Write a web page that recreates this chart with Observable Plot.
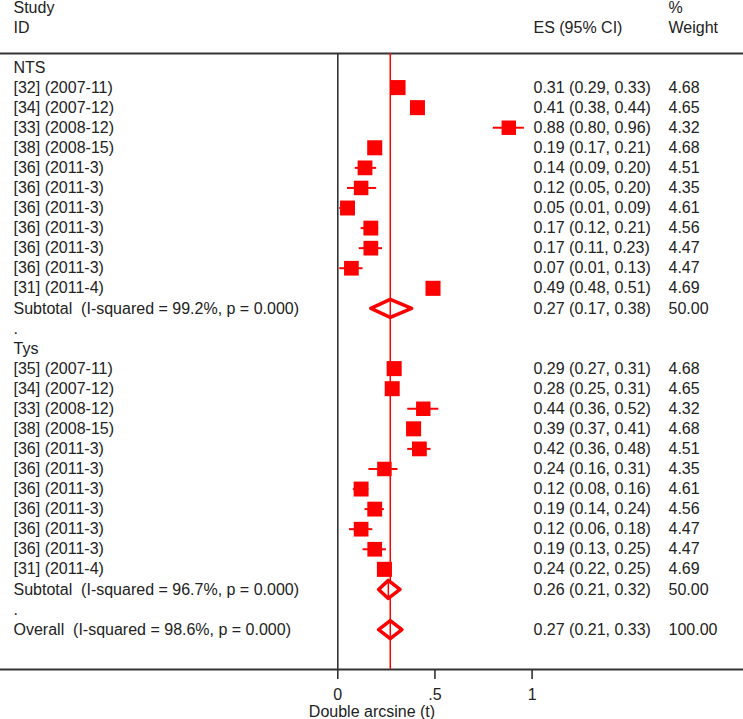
<!DOCTYPE html>
<html>
<head>
<meta charset="utf-8">
<script src="https://cdn.jsdelivr.net/npm/d3@7"></script>
<script src="https://cdn.jsdelivr.net/npm/@observablehq/plot@0.6"></script>
<style>
  html, body { margin: 0; padding: 0; background: #fff; }
  svg text { white-space: pre; }
</style>
</head>
<body>
<div id="chart"></div>
<script>
// ---- Data ----
const ntsIds = ["[32] (2007-11)", "[34] (2007-12)", "[33] (2008-12)", "[38] (2008-15)", "[36] (2011-3)", "[36] (2011-3)", "[36] (2011-3)", "[36] (2011-3)", "[36] (2011-3)", "[36] (2011-3)", "[31] (2011-4)"];
const ntsES = [0.31, 0.41, 0.88, 0.19, 0.14, 0.12, 0.05, 0.17, 0.17, 0.07, 0.49];
const ntsLo = [0.29, 0.38, 0.80, 0.17, 0.09, 0.05, 0.01, 0.12, 0.11, 0.01, 0.48];
const ntsHi = [0.33, 0.44, 0.96, 0.21, 0.20, 0.20, 0.09, 0.21, 0.23, 0.13, 0.51];
const ntsW  = [4.68, 4.65, 4.32, 4.68, 4.51, 4.35, 4.61, 4.56, 4.47, 4.47, 4.69];

const tysIds = ["[35] (2007-11)", "[34] (2007-12)", "[33] (2008-12)", "[38] (2008-15)", "[36] (2011-3)", "[36] (2011-3)", "[36] (2011-3)", "[36] (2011-3)", "[36] (2011-3)", "[36] (2011-3)", "[31] (2011-4)"];
const tysES = [0.29, 0.28, 0.44, 0.39, 0.42, 0.24, 0.12, 0.19, 0.12, 0.19, 0.24];
const tysLo = [0.27, 0.25, 0.36, 0.37, 0.36, 0.16, 0.08, 0.14, 0.06, 0.13, 0.22];
const tysHi = [0.31, 0.31, 0.52, 0.41, 0.48, 0.31, 0.16, 0.24, 0.18, 0.25, 0.25];
const tysW  = [4.68, 4.65, 4.32, 4.68, 4.51, 4.35, 4.61, 4.56, 4.47, 4.47, 4.69];

const groupNames = ["NTS", "Tys"];
const summaryLabels = ["Subtotal  (I-squared = 99.2%, p = 0.000)", "Subtotal  (I-squared = 96.7%, p = 0.000)", "Overall  (I-squared = 98.6%, p = 0.000)"];
const summaryES = [0.27, 0.26, 0.27];
const summaryLo = [0.17, 0.21, 0.21];
const summaryHi = [0.38, 0.32, 0.33];
const summaryW  = [50.00, 50.00, 100.00];

const headerLeft = ["Study", "ID"];
const headerES = "ES (95% CI)";
const headerW = ["%", "Weight"];
const xTicks = [0, 0.5, 1];
const xTickLabels = ["0", ".5", "1"];
const xLabel = "Double arcsine (t)";

// ---- Build rows ----
const fmt = d3.format(".2f");
const studies = [];
const labels = [];
const summaries = [];
let row = 0;
function addGroup(name, ids, es, lo, hi, w, si) {
  labels.push({row, text: name});
  row++;
  ids.forEach((id, i) => {
    studies.push({row, id, es: es[i], lo: lo[i], hi: hi[i], w: w[i]});
    labels.push({row, text: id, esText: `${fmt(es[i])} (${fmt(lo[i])}, ${fmt(hi[i])})`, wText: fmt(w[i])});
    row++;
  });
  summaries.push({row, es: summaryES[si], lo: summaryLo[si], hi: summaryHi[si]});
  labels.push({row, text: summaryLabels[si], esText: `${fmt(summaryES[si])} (${fmt(summaryLo[si])}, ${fmt(summaryHi[si])})`, wText: fmt(summaryW[si])});
  row++;
  labels.push({row, text: "."});
  row++;
}
addGroup(groupNames[0], ntsIds, ntsES, ntsLo, ntsHi, ntsW, 0);
addGroup(groupNames[1], tysIds, tysES, tysLo, tysHi, tysW, 1);
summaries.push({row, es: summaryES[2], lo: summaryLo[2], hi: summaryHi[2]});
labels.push({row, text: summaryLabels[2], esText: `${fmt(summaryES[2])} (${fmt(summaryLo[2])}, ${fmt(summaryHi[2])})`, wText: fmt(summaryW[2])});

const headers = [
  {row: -2.95, left: headerLeft[0], right: headerW[0], mid: ""},
  {row: -1.95, left: headerLeft[1], right: headerW[1], mid: headerES}
];

const dh = 0.45;
const diamonds = summaries.flatMap((s, k) => [
  {k, x: s.lo, y: s.row}, {k, x: s.es, y: s.row - dh}, {k, x: s.hi, y: s.row},
  {k, x: s.es, y: s.row + dh}, {k, x: s.lo, y: s.row}
]);

const overall = summaryES[2];
const topRow = -0.7;
const bottomRow = 29.99;
const red = "#ff0000";
const ink = "#222";

const chart = Plot.plot({
  width: 743,
  height: 719,
  marginLeft: 0, marginRight: 0, marginTop: 0, marginBottom: 50,
  style: {fontFamily: "'Liberation Sans', Arial, sans-serif", fontSize: "16px", color: ink, background: "#fff"},
  x: {domain: [-1.736, 2.088], axis: null},
  y: {domain: [-3.338, bottomRow], reverse: true, axis: null},
  r: {domain: [0, 4.69], range: [0, 8.5]},
  marks: [
    Plot.ruleY([topRow], {stroke: "#333", strokeWidth: 2}),
    Plot.frame({anchor: "bottom", stroke: "#333", strokeWidth: 2}),
    Plot.ruleX([0], {y1: topRow, y2: bottomRow, stroke: "#333", strokeWidth: 1.6}),
    Plot.ruleX([overall], {y1: topRow, y2: bottomRow, stroke: red, strokeWidth: 1.5}),
    Plot.ruleY(studies, {y: "row", x1: "lo", x2: "hi", stroke: red, strokeWidth: 2}),
    Plot.dot(studies, {x: "es", y: "row", r: "w", symbol: "square", fill: red, stroke: null}),
    Plot.line(diamonds, {x: "x", y: "y", z: "k", fill: "white", stroke: red, strokeWidth: 3.5, strokeLinejoin: "round", curve: "linear"}),
    Plot.ruleX(summaries, {x: "es", y1: d => d.row - dh, y2: d => d.row + dh, stroke: red, strokeWidth: 1.5}),
    Plot.text(labels, {y: "row", text: "text", frameAnchor: "left", dx: 13, textAnchor: "start", fill: ink}),
    Plot.text(labels.filter(d => d.esText), {y: "row", text: "esText", frameAnchor: "left", dx: 533, textAnchor: "start", fill: ink}),
    Plot.text(labels.filter(d => d.wText), {y: "row", text: "wText", frameAnchor: "left", dx: 668, textAnchor: "start", fill: ink}),
    Plot.text(headers, {y: "row", text: "left", frameAnchor: "left", dx: 13, textAnchor: "start", fill: ink}),
    Plot.text(headers, {y: "row", text: "mid", frameAnchor: "left", dx: 533, textAnchor: "start", fill: ink}),
    Plot.text(headers, {y: "row", text: "right", frameAnchor: "left", dx: 668, textAnchor: "start", fill: ink}),
    Plot.axisX({ticks: xTicks, tickFormat: (d) => xTickLabels[xTicks.indexOf(d)], tickSize: 10, tickPadding: 9, strokeWidth: 1.6, stroke: "#333", fill: ink, label: xLabel, labelAnchor: "center", labelArrow: "none"})
  ]
});
document.getElementById("chart").appendChild(chart);
</script>
</body>
</html>
